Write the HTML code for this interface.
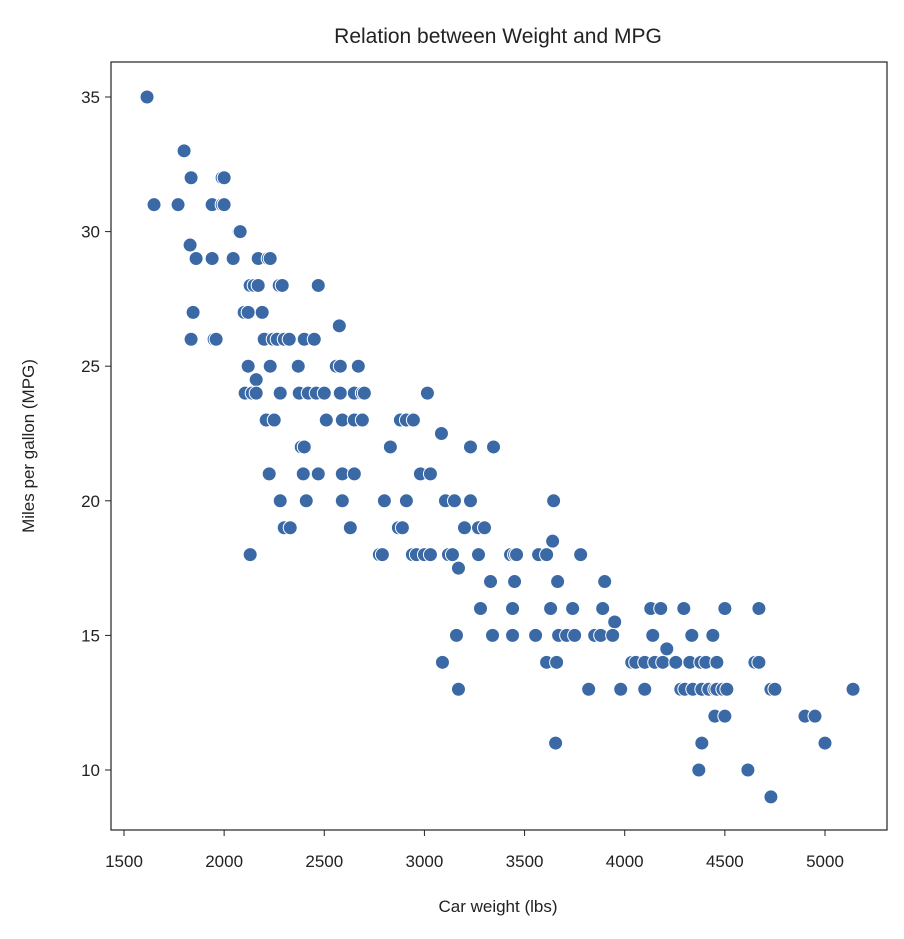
<!DOCTYPE html>
<html><head><meta charset="utf-8"><style>
body{margin:0;background:#fff;}
svg text{font-family:"Liberation Sans","DejaVu Sans",sans-serif;fill:#222;}
</style></head><body>
<svg id="chart" width="904" height="934">
<text x="498" y="43" font-size="21" text-anchor="middle">Relation between Weight and MPG</text>
<text x="498" y="912" font-size="17" text-anchor="middle">Car weight (lbs)</text>
<text x="34" y="446" font-size="17" text-anchor="middle" transform="rotate(-90 34 446)">Miles per gallon (MPG)</text>
<g id="ticks"></g><g id="points"></g>
<rect x="111" y="62" width="776" height="768" fill="none" stroke="#222" stroke-width="1.2"/>
</svg>
<script>
const xTicks=[1500,2000,2500,3000,3500,4000,4500,5000];
const yTicks=[10,15,20,25,30,35];
const weights=[1615,1800,1835,1990,2000,1650,1770,1940,1990,2000,2075,2080,1830,1860,1940,2045,2170,2220,2230,2130,2150,2170,2275,2290,2470,1845,2100,2120,2190,2575,1835,1950,1960,2200,2245,2265,2300,2325,2400,2450,2120,2230,2370,2560,2580,2670,2160,2105,2140,2160,2280,2375,2420,2460,2500,2580,2650,2690,2700,3015,2210,2250,2510,2590,2650,2690,2880,2910,2945,3085,2385,2400,2830,3230,3345,2225,2395,2470,2590,2650,2980,3030,2280,2410,2590,2800,2910,3105,3150,3230,3645,2300,2330,2630,2870,2890,3200,3270,3300,3640,2130,2775,2790,2940,2960,3000,3030,3120,3140,3270,3430,3450,3460,3570,3610,3780,3170,3330,3450,3665,3900,3280,3440,3630,3740,3890,4130,4180,4295,4500,4670,3950,3160,3340,3440,3555,3670,3710,3750,3850,3880,3940,4140,4335,4440,4210,3090,3610,3660,4035,4055,4100,4150,4190,4255,4325,4380,4405,4460,4650,4670,3170,3820,3980,4100,4280,4300,4340,4385,4420,4450,4460,4490,4510,4730,4750,5140,4450,4500,4900,4950,3655,4385,5000,4370,4615,4730];
const mpgs=[35,33,32,32,32,31,31,31,31,31,30,30,29.5,29,29,29,29,29,29,28,28,28,28,28,28,27,27,27,27,26.5,26,26,26,26,26,26,26,26,26,26,25,25,25,25,25,25,24.5,24,24,24,24,24,24,24,24,24,24,24,24,24,23,23,23,23,23,23,23,23,23,22.5,22,22,22,22,22,21,21,21,21,21,21,21,20,20,20,20,20,20,20,20,20,19,19,19,19,19,19,19,19,18.5,18,18,18,18,18,18,18,18,18,18,18,18,18,18,18,18,17.5,17,17,17,17,16,16,16,16,16,16,16,16,16,16,15.5,15,15,15,15,15,15,15,15,15,15,15,15,15,14.5,14,14,14,14,14,14,14,14,14,14,14,14,14,14,14,13,13,13,13,13,13,13,13,13,13,13,13,13,13,13,13,12,12,12,12,11,11,11,10,10,9];
const NS='http://www.w3.org/2000/svg';
const xs=v=>124+(v-1500)*(825-124)/3500;
const ys=v=>97+(35-v)*(770-97)/25;
const tg=document.getElementById('ticks'),pg=document.getElementById('points');
function mk(t,a){const e=document.createElementNS(NS,t);for(const k in a)e.setAttribute(k,a[k]);return e;}
xTicks.forEach(t=>{
 const l=mk('line',{x1:xs(t),x2:xs(t),y1:830,y2:836,stroke:'#222'});
 
 
 tg.appendChild(l);
 const tx=mk('text',{x:xs(t),y:867,'font-size':17,'text-anchor':'middle'});tx.textContent=t;
 
 
 tg.appendChild(tx);
});
yTicks.forEach(t=>{
 const l=mk('line',{x1:105,x2:111,y1:ys(t),y2:ys(t),stroke:'#222'});
 
 
 tg.appendChild(l);
 const tx=mk('text',{x:100,y:ys(t)+6,'font-size':17,'text-anchor':'end'});tx.textContent=t;
 
 
 tg.appendChild(tx);
});
weights.forEach((w,i)=>{
 const c=mk('circle',{cx:xs(w),cy:ys(mpgs[i]),r:7,fill:'#3a69a6',stroke:'#fff','stroke-width':1});
 
 
 pg.appendChild(c);
});
</script>
</body></html>
